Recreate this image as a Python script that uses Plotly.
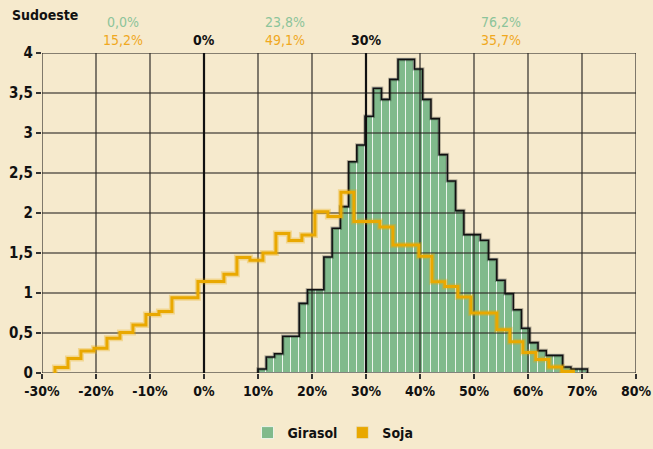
import plotly.graph_objects as go

# Girasol histogram (density, % per unit), 40 bins from 10% up to 71%
girasol_start = 10.0
girasol_bin = 1.525
girasol_density = [0.05, 0.20, 0.24, 0.46, 0.46, 0.87, 1.04, 1.04, 1.45, 1.81,
                   2.08, 2.64, 2.85, 3.21, 3.56, 3.42, 3.67, 3.92, 3.92, 3.80,
                   3.42, 3.18, 2.73, 2.40, 2.03, 1.73, 1.73, 1.66, 1.42, 1.16,
                   0.99, 0.79, 0.56, 0.38, 0.28, 0.22, 0.22, 0.075, 0.05, 0.05]

# Soja histogram, 40 bins from -27.6% up to 68.7%
soja_start = -27.6
soja_bin = 2.407
soja_density = [0.07, 0.18, 0.275, 0.31, 0.435, 0.505, 0.60, 0.73, 0.77, 0.94,
                0.94, 1.145, 1.145, 1.235, 1.445, 1.41, 1.50, 1.745, 1.655, 1.725,
                2.015, 1.955, 2.26, 1.895, 1.895, 1.825, 1.60, 1.60, 1.46, 1.14,
                1.08, 0.95, 0.75, 0.75, 0.54, 0.39, 0.255, 0.17, 0.075, 0.02]

x_ticks = [-30, -20, -10, 0, 10, 20, 30, 40, 50, 60, 70, 80]
y_ticks = [0, 0.5, 1, 1.5, 2, 2.5, 3, 3.5, 4]
ref_lines = [0, 30]

# shares below / between / above the reference lines
share_x = [-15, 15, 55]
girasol_share = ['0,0%', '23,8%', '76,2%']
soja_share = ['15,2%', '49,1%', '35,7%']

BG = '#f6eacd'
GREEN = '#80ba8c'
ORANGE = '#e9a800'
FONT = 'DejaVu Sans Condensed, DejaVu Sans'


def step_outline(start, width, heights, close=True):
    edges = [start + k * width for k in range(len(heights) + 1)]
    xs = [edges[0]] + edges[:-1] + [edges[-1]]
    ys = [0] + list(heights) + [heights[-1]]
    if close:
        xs.append(edges[-1])
        ys.append(0)
    return xs, ys


fig = go.Figure()

g_centers = [girasol_start + (k + 0.5) * girasol_bin for k in range(len(girasol_density))]
fig.add_bar(x=g_centers, y=girasol_density, width=girasol_bin, name='Girasol',
            marker=dict(color=GREEN, line=dict(color='rgba(255,255,255,0.75)', width=1)))
fig.add_bar(x=[None], y=[None], name='Soja', marker=dict(color=ORANGE))

# grid drawn over the bars
gx, gy = [], []
for v in x_ticks:
    gx += [v, v, None]
    gy += [0, 4, None]
for v in y_ticks:
    gx += [-30, 80, None]
    gy += [v, v, None]
fig.add_scatter(x=gx, y=gy, mode='lines', showlegend=False, hoverinfo='skip',
                line=dict(color='rgba(40,38,34,0.72)', width=1.6))

rx, ry = [], []
for v in ref_lines:
    rx += [v, v, None]
    ry += [0, 4, None]
fig.add_scatter(x=rx, y=ry, mode='lines', showlegend=False, hoverinfo='skip',
                line=dict(color='#111111', width=2.2))

ox, oy = step_outline(girasol_start, girasol_bin, girasol_density)
fig.add_scatter(x=ox, y=oy, mode='lines', line_shape='hv', showlegend=False,
                hoverinfo='skip', line=dict(color='rgba(0,0,0,0.25)', width=3.5))
fig.add_scatter(x=ox, y=oy, mode='lines', line_shape='hv', showlegend=False,
                hoverinfo='skip', line=dict(color='#111111', width=1.6))

sx, sy = step_outline(soja_start, soja_bin, soja_density, close=False)
fig.add_scatter(x=sx, y=sy, mode='lines', line_shape='hv', showlegend=False,
                hoverinfo='skip', line=dict(color='rgba(233,168,0,0.3)', width=6))
fig.add_scatter(x=sx, y=sy, mode='lines', line_shape='hv', showlegend=False,
                name='Soja', line=dict(color=ORANGE, width=3))

W, H = 653, 449
ML, MR, MT, MB = 42, 17, 53, 76

annotations = []
for xv, g, s in zip(share_x, girasol_share, soja_share):
    annotations.append(dict(text=g, x=xv, y=4, yshift=31, xref='x', yref='y', showarrow=False,
                            font=dict(size=14, color='#8cc49a')))
    annotations.append(dict(text=s, x=xv, y=4, yshift=13, xref='x', yref='y', showarrow=False,
                            font=dict(size=14, color='#f0a81e')))
for v in ref_lines:
    annotations.append(dict(text='<b>%d%%</b>' % v, x=v, y=4, yshift=13, xref='x', yref='y',
                            showarrow=False, font=dict(size=14, color='#111')))

fig.update_layout(
    width=W, height=H,
    margin=dict(l=ML, r=MR, t=MT, b=MB, autoexpand=False),
    paper_bgcolor=BG, plot_bgcolor=BG,
    separators=',.',
    font=dict(family=FONT, size=14, color='#111'),
    title=dict(text='<b>Sudoeste</b>', x=12 / W, xanchor='left', xref='container',
               y=1 - 15 / H, yanchor='middle', yref='container',
               font=dict(size=14, family=FONT, color='#111')),
    barmode='overlay', bargap=0,
    showlegend=True,
    legend=dict(orientation='h', x=0.51, xanchor='center', xref='container',
                y=-4 / H, yanchor='bottom', yref='container',
                font=dict(size=14, family=FONT, color='#111', weight='bold'),
                bgcolor='rgba(0,0,0,0)'),
    annotations=annotations,
)
fig.update_xaxes(range=[-30, 80], showgrid=False, zeroline=False, tickmode='array',
                 tickvals=x_ticks, ticktext=['<b>%d%%</b>' % v for v in x_ticks],
                 ticks='outside', ticklen=5, tickwidth=1.5, tickcolor='#333',
                 showline=False, fixedrange=True, automargin=False)
fig.update_yaxes(range=[0, 4], showgrid=False, zeroline=False, tickmode='array',
                 tickvals=y_ticks,
                 ticktext=['<b>%s</b>' % ('%g' % v).replace('.', ',') for v in y_ticks],
                 ticks='outside', ticklen=5, tickwidth=1.5, tickcolor='#333',
                 tickfont=dict(size=15),
                 showline=False, fixedrange=True, automargin=False)

fig.write_html("out.html", config={'displayModeBar': False},
               post_script="document.body.style.margin='0';")
